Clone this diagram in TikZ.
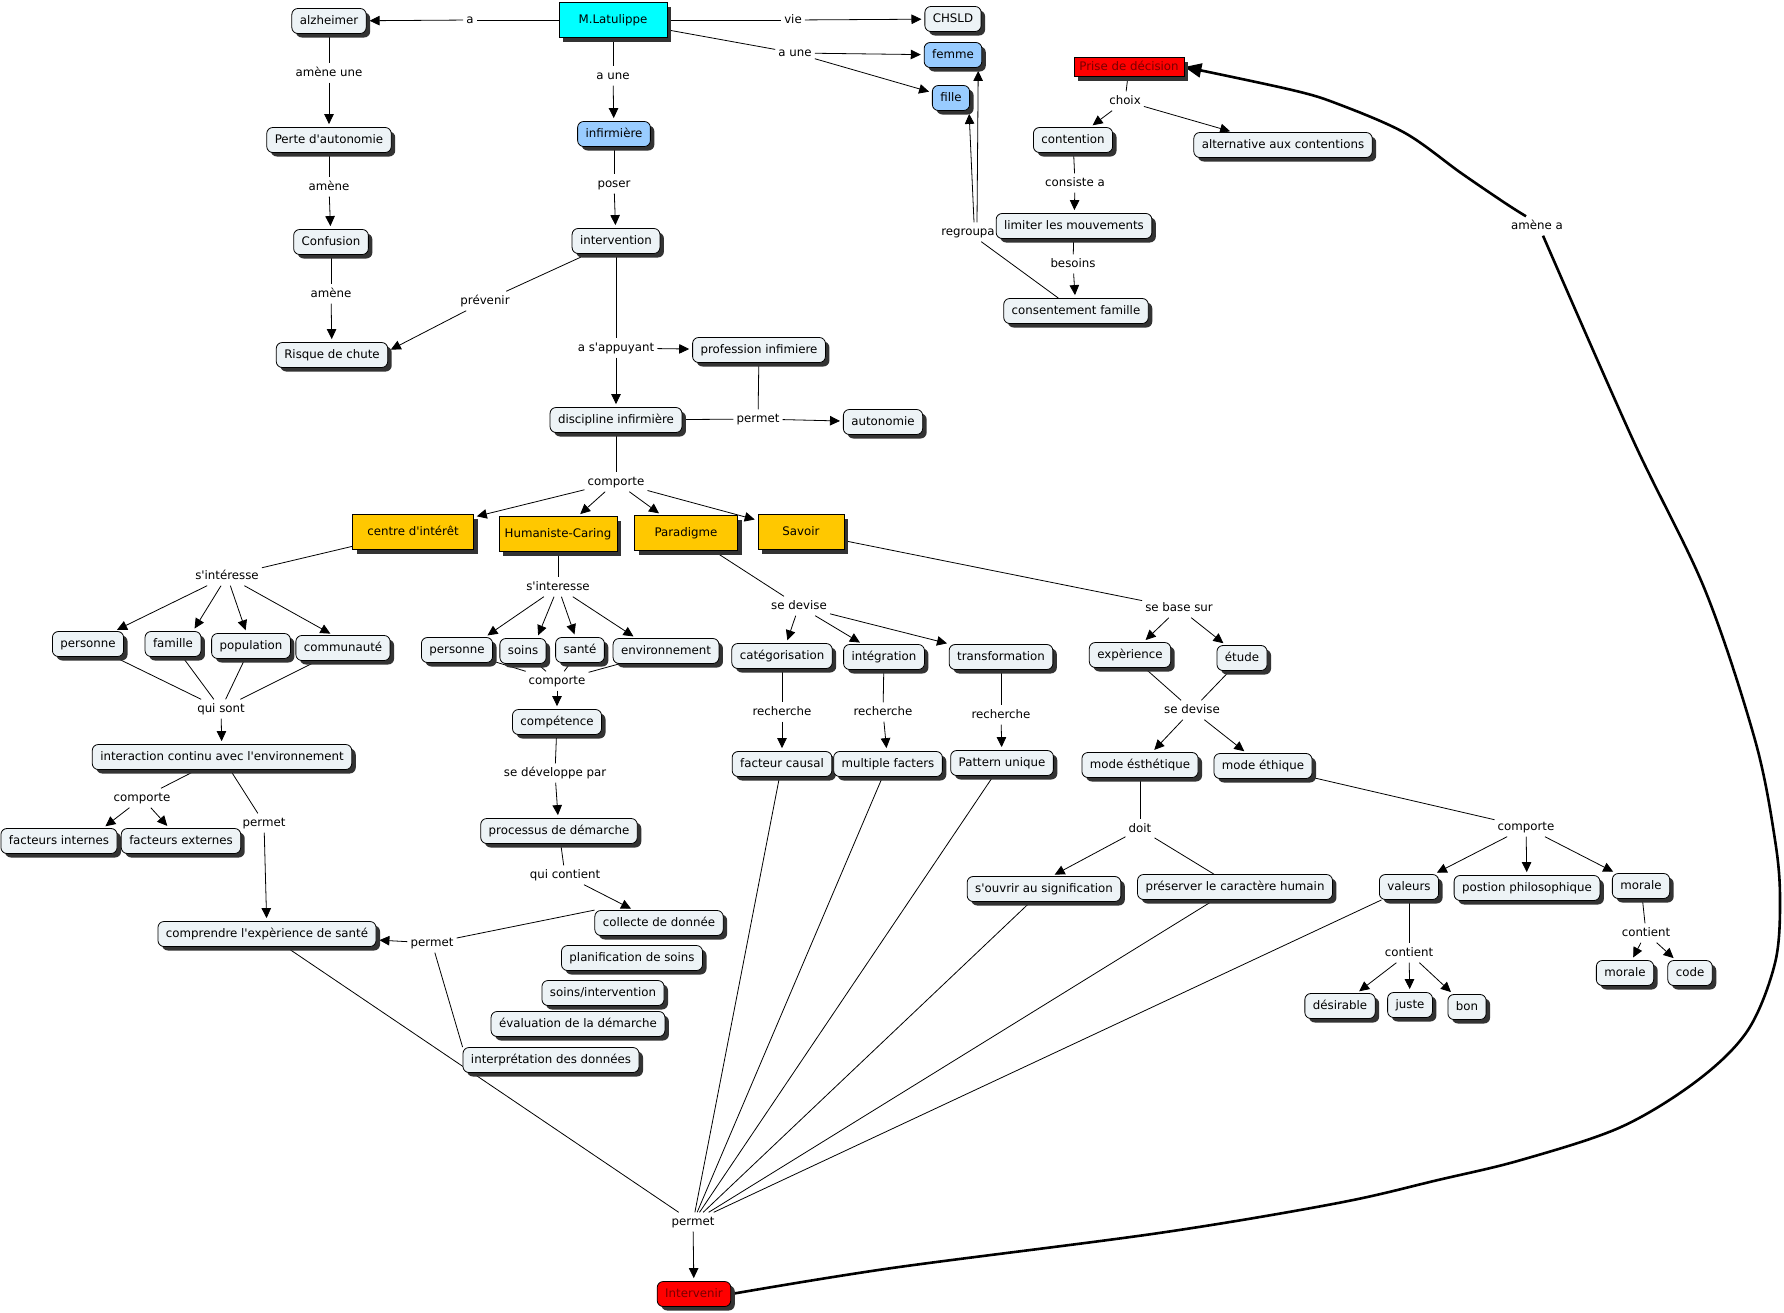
\documentclass[tikz,border=0pt]{standalone}
\usepackage{fontspec}
\newfontfamily\dvs{DejaVu Sans}
\usetikzlibrary{arrows.meta,shadows,backgrounds}

\definecolor{cfill}{RGB}{237,243,246}
\definecolor{bluef}{RGB}{153,204,255}
\definecolor{orangef}{RGB}{255,200,0}
\definecolor{cyanf}{RGB}{0,255,255}
\definecolor{redf}{RGB}{255,0,0}
\definecolor{redtext}{RGB}{120,0,0}

\tikzset{
  base/.style={font=\dvs\fontsize{11.8}{14}\selectfont, text height=8.5pt, text depth=2.5pt},
  shad/.style={drop shadow={shadow xshift=4pt, shadow yshift=-4pt, fill=black!80, opacity=1}},
  cpt/.style={base, shad, draw=black, line width=0.8pt, fill=cfill, rounded corners=6pt, inner xsep=8pt, inner ysep=7pt},
  bluec/.style={cpt, fill=bluef},
  rectc/.style={base, shad, draw=black, line width=0.8pt, inner xsep=4pt, inner ysep=2pt},
  orangec/.style={rectc, fill=orangef, minimum height=35pt},
  lnk/.style={base, inner xsep=3pt, inner ysep=4pt},
  ln/.style={line width=0.8pt},
  arr/.style={ln, -{Triangle[length=10pt,width=9.5pt]}, shorten >=3pt},
  thickc/.style={line width=2.6pt, line join=round},
}

\begin{document}
\begin{tikzpicture}[x=1pt, y=-1pt]
\useasboundingbox (0,0) rectangle (1784,1312);

% ---------- concepts ----------
\node[cpt] (alz) at (329,21) {alzheimer};
\node[cpt] (perte) at (329,140) {Perte d'autonomie};
\node[cpt] (conf) at (331,242) {Confusion};
\node[cpt] (risque) at (332,355) {Risque de chute};
\node[rectc, fill=cyanf, minimum width=108pt, minimum height=35pt] (latu) at (613,20) {M.Latulippe};
\node[bluec] (infi) at (614,134) {infirmière};
\node[cpt] (interv) at (616,241) {intervention};
\node[cpt] (prof) at (759,350) {profession infimiere};
\node[cpt] (disc) at (616,420) {discipline infirmière};
\node[cpt] (auto) at (883,422) {autonomie};
\node[cpt] (chsld) at (953,19) {CHSLD};
\node[bluec] (femme) at (953,55) {femme};
\node[bluec] (fille) at (951,98) {fille};
\node[rectc, fill=redf, text=redtext, minimum width=110pt, minimum height=19pt, inner ysep=1pt] (prise) at (1129,67) {Prise de décision};
\node[cpt] (contention) at (1073,140) {contention};
\node[cpt] (alt) at (1283,145) {alternative aux contentions};
\node[cpt] (limiter) at (1074,226) {limiter les mouvements};
\node[cpt] (consent) at (1076,311) {consentement famille};

\node[orangec, minimum width=121pt] (centre) at (413,532) {centre d'intérêt};
\node[orangec, minimum width=118pt] (human) at (558,534) {Humaniste-Caring};
\node[orangec, minimum width=103pt] (para) at (686,533) {Paradigme};
\node[orangec, minimum width=86pt] (savoir) at (801,532) {Savoir};

\node[cpt] (pers1) at (88,644) {personne};
\node[cpt] (fam) at (173,644) {famille};
\node[cpt] (pop) at (251,646) {population};
\node[cpt] (comm) at (343,648) {communauté};
\node[cpt] (inter) at (222,757) {interaction continu avec l'environnement};
\node[cpt] (fint) at (59,841) {facteurs internes};
\node[cpt] (fext) at (181,841) {facteurs externes};
\node[cpt] (compr) at (267,934) {comprendre l'expèrience de santé};

\node[cpt] (pers2) at (457,650) {personne};
\node[cpt] (soins) at (523,651) {soins};
\node[cpt] (sante) at (580,650) {santé};
\node[cpt] (env) at (666,651) {environnement};
\node[cpt] (compet) at (557,722) {compétence};
\node[cpt] (proc) at (559,831) {processus de démarche};
\node[cpt] (coll) at (659,923) {collecte de donnée};
\node[cpt] (plan) at (632,958) {planification de soins};
\node[cpt] (soinsint) at (603,993) {soins/intervention};
\node[cpt] (eval) at (578,1024) {évaluation de la démarche};
\node[cpt] (interp) at (551,1060) {interprétation des données};

\node[cpt] (categ) at (782,656) {catégorisation};
\node[cpt] (integ) at (884,657) {intégration};
\node[cpt] (transf) at (1001,657) {transformation};
\node[cpt] (fcausal) at (782,764) {facteur causal};
\node[cpt] (multi) at (888,764) {multiple facters};
\node[cpt] (pattern) at (1002,763) {Pattern unique};

\node[cpt] (exper) at (1130,655) {expèrience};
\node[cpt] (etude) at (1242,658) {étude};
\node[cpt] (mesth) at (1140,765) {mode ésthétique};
\node[cpt] (meth) at (1263,766) {mode éthique};
\node[cpt] (souvrir) at (1044,889) {s'ouvrir au signification};
\node[cpt] (preserv) at (1235,887) {préserver le caractère humain};
\node[cpt] (valeurs) at (1409,887) {valeurs};
\node[cpt] (postion) at (1527,888) {postion philosophique};
\node[cpt] (morale1) at (1641,886) {morale};
\node[cpt] (desir) at (1340,1006) {désirable};
\node[cpt] (juste) at (1410,1005) {juste};
\node[cpt] (bon) at (1467,1007) {bon};
\node[cpt] (morale2) at (1625,973) {morale};
\node[cpt] (code) at (1690,973) {code};

\node[cpt, fill=redf, text=redtext] (intervenir) at (694,1294) {Intervenir};

% ---------- linking phrases ----------
\node[lnk] (la) at (470,20) {a};
\node[lnk] (lvie) at (793,20) {vie};
\node[lnk] (laune1) at (795,53) {a une};
\node[lnk] (laune2) at (613,76) {a une};
\node[lnk] (lamu) at (329,73) {amène une};
\node[lnk] (lam1) at (329,187) {amène};
\node[lnk] (lam2) at (331,294) {amène};
\node[lnk] (lposer) at (614,184) {poser};
\node[lnk] (lprev) at (485,301) {prévenir};
\node[lnk] (lappuy) at (616,348) {a s'appuyant};
\node[lnk] (lpermet1) at (758,419) {permet};
\node[lnk] (lcomp1) at (616,482) {comporte};
\node[lnk] (lsint1) at (227,576) {s'intéresse};
\node[lnk] (lquisont) at (221,709) {qui sont};
\node[lnk] (lcomp2) at (142,798) {comporte};
\node[lnk] (lpermet2) at (264,823) {permet};
\node[lnk] (lsint2) at (558,587) {s'interesse};
\node[lnk] (lcomp3) at (557,681) {comporte};
\node[lnk] (ldev) at (555,773) {se développe par};
\node[lnk] (lquicont) at (565,875) {qui contient};
\node[lnk] (lpermet3) at (432,943) {permet};
\node[lnk] (ldevise1) at (799,606) {se devise};
\node[lnk] (lrech1) at (782,712) {recherche};
\node[lnk] (lrech2) at (883,712) {recherche};
\node[lnk] (lrech3) at (1001,715) {recherche};
\node[lnk] (lbase) at (1179,608) {se base sur};
\node[lnk] (ldevise2) at (1192,710) {se devise};
\node[lnk] (ldoit) at (1140,829) {doit};
\node[lnk] (lcomp4) at (1526,827) {comporte};
\node[lnk] (lcont1) at (1409,953) {contient};
\node[lnk] (lcont2) at (1646,933) {contient};
\node[lnk] (lpermet4) at (693,1222) {permet};
\node[lnk] (lamenea) at (1537,226) {amène a};
\node[lnk] (lchoix) at (1125,101) {choix};
\node[lnk] (lconsiste) at (1075,183) {consiste a};
\node[lnk] (lbesoins) at (1073,264) {besoins};
\node[lnk] (lregroupa) at (968,232) {regroupa};

\coordinate (ameneS) at ([xshift=6pt]lamenea.south);
\coordinate (ameneN) at ([xshift=-11pt]lamenea.north);

% ---------- connectors ----------
\begin{scope}[on background layer]
\draw[ln] (latu) -- (la); \draw[arr] (la) -- (alz);
\draw[ln] (latu) -- (lvie); \draw[arr] (lvie) -- (chsld);
\draw[ln] (latu) -- (laune1); \draw[arr] (laune1) -- (femme); \draw[arr] (laune1) -- (fille);
\draw[ln] (latu) -- (laune2); \draw[arr] (laune2) -- (infi);

\draw[ln] (alz) -- (lamu); \draw[arr] (lamu) -- (perte);
\draw[ln] (perte) -- (lam1); \draw[arr] (lam1) -- (conf);
\draw[ln] (conf) -- (lam2); \draw[arr] (lam2) -- (risque);

\draw[ln] (infi) -- (lposer); \draw[arr] (lposer) -- (interv);
\draw[ln] (interv) -- (lprev); \draw[arr] (lprev) -- ([yshift=4pt]risque.east);
\draw[ln] (interv) -- (lappuy); \draw[arr] (lappuy) -- (prof); \draw[arr] (lappuy) -- (disc);
\draw[ln] (prof) -- (lpermet1); \draw[ln] (disc) -- (lpermet1); \draw[arr] (lpermet1) -- (auto);

\draw[ln] (disc) -- (lcomp1);
\draw[arr] (lcomp1) -- (centre); \draw[arr] (lcomp1) -- (human);
\draw[arr] (lcomp1) -- (para); \draw[arr] (lcomp1) -- (savoir);

\draw[ln] (centre) -- (lsint1);
\draw[arr] (lsint1) -- (pers1); \draw[arr] (lsint1) -- ([xshift=20pt]fam.north);
\draw[arr] (lsint1) -- (pop); \draw[arr] (lsint1) -- ([xshift=-10pt]comm.north);
\draw[ln] (pers1) -- (lquisont); \draw[ln] (fam) -- (lquisont);
\draw[ln] (pop) -- (lquisont); \draw[ln] (comm) -- (lquisont);
\draw[arr] (lquisont) -- (inter);
\draw[ln] (inter) -- (lcomp2);
\draw[arr] (lcomp2) -- ([xshift=44pt]fint.north); \draw[arr] (lcomp2) -- (fext);
\draw[ln] (inter) -- (lpermet2); \draw[arr] (lpermet2) -- (compr);

\draw[ln] (human) -- (lsint2);
\draw[arr] (lsint2) -- ([xshift=28pt]pers2.north); \draw[arr] (lsint2) -- ([xshift=14pt]soins.north);
\draw[arr] (lsint2) -- (sante); \draw[arr] (lsint2) -- ([xshift=-30pt]env.north);
\draw[ln] (pers2) -- (lcomp3); \draw[ln] (soins) -- (lcomp3);
\draw[ln] (sante) -- (lcomp3); \draw[ln] (env) -- (lcomp3);
\draw[arr] (lcomp3) -- (compet);
\draw[ln] (compet) -- (ldev); \draw[arr] (ldev) -- (proc);
\draw[ln] (proc) -- (lquicont); \draw[arr] (lquicont) -- (coll);
\draw[ln] (coll.north west) -- (lpermet3); \draw[ln] (interp.north west) -- (lpermet3);
\draw[arr] (lpermet3) -- (compr);

\draw[ln] (para) -- (ldevise1);
\draw[arr] (ldevise1) -- (categ); \draw[arr] (ldevise1) -- (integ); \draw[arr] (ldevise1) -- (transf);
\draw[ln] (categ) -- (lrech1); \draw[arr] (lrech1) -- (fcausal);
\draw[ln] (integ) -- (lrech2); \draw[arr] (lrech2) -- (multi);
\draw[ln] (transf) -- (lrech3); \draw[arr] (lrech3) -- (pattern);

\draw[ln] (savoir) -- (lbase);
\draw[arr] (lbase) -- (exper); \draw[arr] (lbase) -- (etude);
\draw[ln] (exper) -- (ldevise2); \draw[ln] (etude) -- (ldevise2);
\draw[arr] (ldevise2) -- (mesth); \draw[arr] (ldevise2) -- (meth);
\draw[ln] (mesth) -- (ldoit); \draw[arr] (ldoit) -- ([xshift=8pt]souvrir.north);
\draw[ln] (preserv) -- (ldoit);
\draw[ln] (meth) -- (lcomp4);
\draw[arr] (lcomp4) -- (valeurs); \draw[arr] (lcomp4) -- (postion); \draw[arr] (lcomp4) -- (morale1);
\draw[ln] (valeurs) -- (lcont1);
\draw[arr] (lcont1) -- (desir); \draw[arr] (lcont1) -- (juste); \draw[arr] (lcont1) -- (bon);
\draw[ln] (morale1) -- (lcont2);
\draw[arr] (lcont2) -- (morale2); \draw[arr] (lcont2) -- (code);

\draw[ln] (compr) -- (lpermet4); \draw[ln] (fcausal) -- (lpermet4);
\draw[ln] (multi) -- (lpermet4); \draw[ln] (pattern) -- (lpermet4);
\draw[ln] (souvrir) -- (lpermet4); \draw[ln] (preserv) -- (lpermet4);
\draw[ln] (valeurs) -- (lpermet4);
\draw[arr] (lpermet4) -- (intervenir);

\draw[thickc] plot[smooth, tension=0.55] coordinates {(intervenir.east) (892,1268) (1159,1233) (1338,1203) (1438,1180) (1521,1160) (1621,1127) (1698,1080) (1748,1030) (1775,963) (1780,900) (1775,840) (1755,740) (1705,590) (1633,440) (ameneS)};
\draw[thickc, -{Triangle[length=17pt,width=14pt]}] plot[smooth, tension=0.55] coordinates {(ameneN) (1505,203) (1461,173) (1405,133) (1338,104) (1292,90) (prise.east)};

\draw[ln] (prise) -- (lchoix);
\draw[arr] (lchoix) -- (contention); \draw[arr] (lchoix) -- ([xshift=-50pt]alt.north);
\draw[ln] (contention) -- (lconsiste); \draw[arr] (lconsiste) -- (limiter);
\draw[ln] (limiter) -- (lbesoins); \draw[arr] (lbesoins) -- (consent);
\draw[ln] (consent) -- (lregroupa);
\draw[arr] ([xshift=6pt]lregroupa.north) -- ([xshift=-1pt]fille.south east);
\draw[arr] ([xshift=9pt]lregroupa.north) -- ([xshift=-4pt]femme.south east);
\end{scope}
\end{tikzpicture}
\end{document}
